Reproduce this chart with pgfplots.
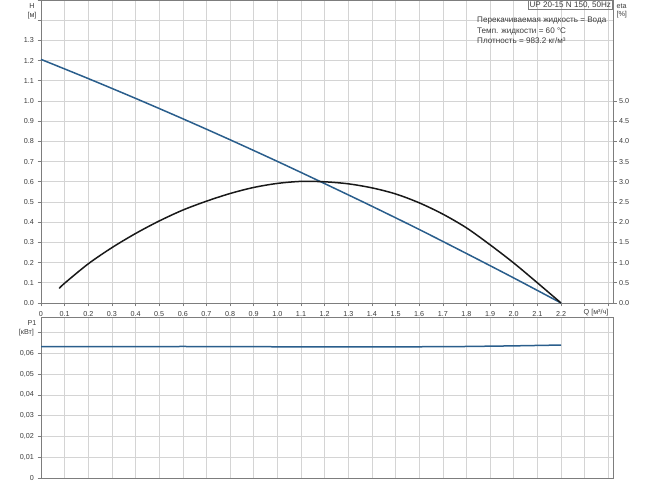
\documentclass[border=0pt]{standalone}
\usepackage{fontspec}
\setmainfont{Liberation Sans}
\usepackage{pgfplots}
\pgfplotsset{compat=1.18}
\definecolor{hblue}{RGB}{42,94,140}
\definecolor{gridc}{RGB}{212,212,212}
\definecolor{axc}{RGB}{125,125,125}
\definecolor{txt}{RGB}{60,60,60}
\newcommand{\fs}{\fontsize{7.2}{8.6}\selectfont}
\newcommand{\fb}{\fontsize{8.1}{9.6}\selectfont}

\pgfplotstableread{
q h
0.0 1.206
0.2 1.111
0.4 1.013
0.6 0.912
0.8 0.808
1.0 0.701
1.2 0.591
1.4 0.479
1.6 0.364
1.8 0.245
2.0 0.124
2.2 0.000
}\hdata

\pgfplotstableread{
q eta
0.077 0.36
0.1 0.49
0.2 0.97
0.3 1.37
0.4 1.72
0.5 2.03
0.6 2.30
0.7 2.52
0.8 2.71
0.9 2.86
1.0 2.96
1.1 3.01
1.2 3.00
1.3 2.95
1.4 2.85
1.5 2.70
1.6 2.48
1.7 2.20
1.8 1.86
1.9 1.44
2.0 0.99
2.1 0.50
2.2 0.00
}\etadata

\pgfplotstableread{
q p
0.0 0.0632
0.3 0.0632
0.6 0.0633
0.9 0.0632
1.2 0.0631
1.5 0.0631
1.8 0.0633
2.0 0.0636
2.2 0.0640
}\pdata

\begin{document}
\begin{tikzpicture}
\path[use as bounding box] (0pt,0pt) rectangle (650pt,486pt);
\pgfplotsset{
 base/.style={scale only axis, width=572pt, anchor=south west, xmin=0, xmax=2.42,
  axis line style={axc, line width=0.8pt},
  tick style={axc, line width=0.6pt}, tick align=outside, major tick length=3.5pt,
  tick label style={font=\fs, text=txt},
  /pgf/number format/assume math mode=true,
  clip=false},
 gridstyle/.style={grid=major, major grid style={gridc, line width=0.6pt}}
}
% H axis
\begin{axis}[base, gridstyle, at={(41pt,183pt)}, height=303pt, ymin=0, ymax=1.5,
  xtick={0,0.1,0.2,0.3,0.4,0.5,0.6,0.7,0.8,0.9,1.0,1.1,1.2,1.3,1.4,1.5,1.6,1.7,1.8,1.9,2.0,2.1,2.2,2.3,2.4},
  xticklabels={0,0.1,0.2,0.3,0.4,0.5,0.6,0.7,0.8,0.9,1.0,1.1,1.2,1.3,1.4,1.5,1.6,1.7,1.8,1.9,2.0,2.1,2.2,{},{}},
  xticklabel style={text height=5.6pt, text depth=1.6pt, yshift=-0.5pt},
  ytick={0,0.1,0.2,0.3,0.4,0.5,0.6,0.7,0.8,0.9,1.0,1.1,1.2,1.3,1.4,1.5},
  yticklabels={0.0,0.1,0.2,0.3,0.4,0.5,0.6,0.7,0.8,0.9,1.0,1.1,1.2,1.3,{},{}},
  xtick pos=bottom, ytick pos=left]
\addplot[hblue, line width=1.5pt, smooth] table[x=q,y=h] {\hdata};
\end{axis}
% eta axis
\begin{axis}[base, at={(41pt,183pt)}, height=303pt, ymin=0, ymax=7.5,
  axis x line=none, axis y line*=right, axis line style={-},
  ytick={0,0.5,1,1.5,2,2.5,3,3.5,4,4.5,5},
  yticklabel style={/pgf/number format/fixed, /pgf/number format/fixed zerofill, /pgf/number format/precision=1},
  yticklabel style={anchor=west, xshift=-1pt}]
\addplot[black!90, line width=1.5pt, smooth] table[x=q,y=eta] {\etadata};
\end{axis}
% P1 axis
\begin{axis}[base, gridstyle, at={(41pt,8pt)}, height=161pt, ymin=0, ymax=0.0775,
  scaled y ticks=false,
  xtick={0,0.1,0.2,0.3,0.4,0.5,0.6,0.7,0.8,0.9,1.0,1.1,1.2,1.3,1.4,1.5,1.6,1.7,1.8,1.9,2.0,2.1,2.2,2.3,2.4},
  xticklabels={}, xtick pos=bottom, ytick pos=left, major x tick style={draw=none},
  ytick={0,0.01,0.02,0.03,0.04,0.05,0.06,0.07},
  yticklabels={0,{0,01},{0,02},{0,03},{0,04},{0,05},{0,06},{[кВт]}}]
\addplot[hblue, line width=1.5pt] table[x=q,y=p] {\pdata};
\end{axis}
% labels
\node[font=\fs, text=txt] at (32pt,480pt) {H};
\node[font=\fs, text=txt] at (32pt,470pt) {[м]};
\node[font=\fs, text=txt] at (32pt,163pt) {P1};
\node[font=\fs, text=txt] at (596pt,173pt) {Q [м³/ч]};
\node[font=\fs, text=txt, anchor=west] at (613pt,480pt) {eta};
\node[font=\fs, text=txt, anchor=west] at (613pt,471pt) {[\%]};
\node[font=\fb, text=txt, draw=axc, line width=0.6pt, anchor=north east, inner sep=1.4pt] at (612.7pt,486pt) {UP 20-15 N 150, 50Hz};
\node[font=\fb, text=txt, anchor=west, inner sep=0pt] at (477pt,465pt) {Перекачиваемая жидкость = Вода};
\node[font=\fb, text=txt, anchor=west, inner sep=0pt] at (477pt,455pt) {Темп. жидкости = 60 °C};
\node[font=\fb, text=txt, anchor=west, inner sep=0pt] at (477pt,445pt) {Плотность = 983.2 кг/м³};
\end{tikzpicture}
\end{document}
